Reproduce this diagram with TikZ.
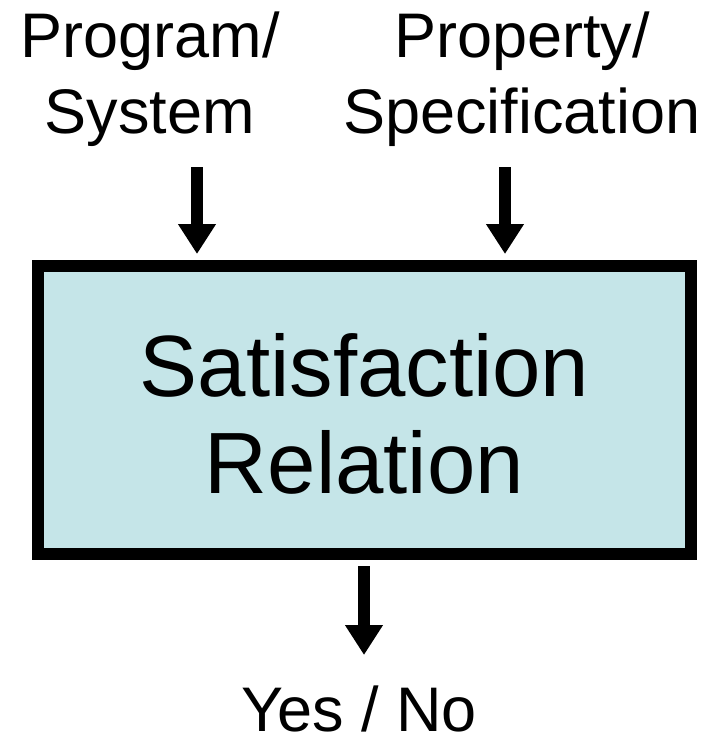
\documentclass[tikz,border=0pt]{standalone}
\usepackage{fontspec}
\setmainfont{Liberation Sans}
\usetikzlibrary{arrows.meta}
\definecolor{relfill}{RGB}{197,229,232}

\begin{document}
\begin{tikzpicture}[x=1pt, y=-1pt,
  lbl/.style={font=\fontsize{63}{76}\selectfont, align=center, inner sep=0pt, anchor=base},
  flow/.style={-{Triangle[width=36pt,length=30pt]}, line width=12pt},
]
  \useasboundingbox (0,0) rectangle (708,737);
  % the relation box
  \node[draw, line width=12pt, fill=relfill, minimum width=653pt, minimum height=288pt,
        inner sep=0pt, text height=168pt, font=\fontsize{87}{97}\selectfont, align=center]
        (rel) at (364.5,410) {Satisfaction\\Relation};
  % inputs and output
  \node[lbl] (prog) at (150,133) {Program/\\System};
  \node[lbl] (prop) at (522,133) {Property/\\Specification};
  \node[lbl] (ans)  at (359,731) {Yes / No};
  \coordinate (in1) at (197,167);
  \coordinate (in2) at (505,167);
  \draw[flow, shorten >=6pt] (in1) -- (in1 |- rel.north);
  \draw[flow, shorten >=6pt] (in2) -- (in2 |- rel.north);
  \coordinate (out) at (364,655);
  \draw[flow, shorten <=6pt] (out |- rel.south) -- (out);
\end{tikzpicture}
\end{document}
